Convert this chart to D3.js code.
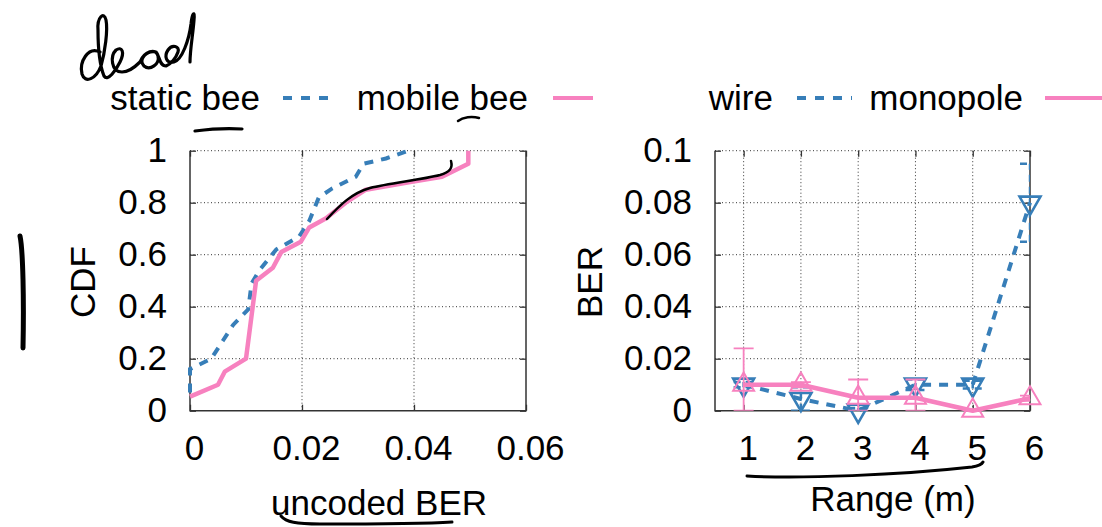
<!DOCTYPE html>
<html>
<head>
<meta charset="utf-8">
<script src="https://cdn.jsdelivr.net/npm/d3@7"></script>
<style>
  body { margin: 0; background: #fff; }
  svg { display: block; font-family: "Liberation Sans", Arial, sans-serif; }
</style>
</head>
<body>
<script>
var CANVAS_WIDTH = 1102;
var CANVAS_HEIGHT = 527;
var BLUE = "#377eb8";
var PINK = "#f781bf";
var FONT = "35px";

// left panel: CDF of uncoded BER
var cdfTicksX = [0, 0.02, 0.04, 0.06];
var cdfTickLabelsX = ["0", "0.02", "0.04", "0.06"];
var cdfTicksY = [0, 0.2, 0.4, 0.6, 0.8, 1];
var cdfTickLabelsY = ["0", "0.2", "0.4", "0.6", "0.8", "1"];
var staticBeeBer = [0, 0, 0.0038, 0.0059, 0.0077, 0.0104, 0.011, 0.0124, 0.0154, 0.0195, 0.0213, 0.023, 0.0254, 0.0296, 0.031, 0.035, 0.039];
var staticBeeCdf = [0.07, 0.16, 0.2, 0.27, 0.33, 0.39, 0.49, 0.54, 0.62, 0.67, 0.73, 0.82, 0.855, 0.9, 0.95, 0.97, 1.0];
var mobileBeeBer = [0, 0.005, 0.0062, 0.01, 0.0118, 0.0148, 0.0163, 0.0198, 0.0213, 0.0243, 0.0278, 0.0314, 0.0396, 0.045, 0.0497, 0.0497];
var mobileBeeCdf = [0.054, 0.1, 0.15, 0.2, 0.5, 0.55, 0.61, 0.65, 0.705, 0.74, 0.8, 0.85, 0.88, 0.9, 0.95, 1.0];

// right panel: BER vs range
var rangeM = [1, 2, 3, 4, 5, 6];
var berTicksY = [0, 0.02, 0.04, 0.06, 0.08, 0.1];
var berTickLabelsY = ["0", "0.02", "0.04", "0.06", "0.08", "0.1"];
var rangeTickLabels = ["1", "2", "3", "4", "5", "6"];
var wireBer = [0.01, 0.0045, 0, 0.01, 0.01, 0.08];
var wireErr = [0.001, 0.0045, 0.001, 0.002, 0.0015, 0.015];
var monopoleBer = [0.01, 0.01, 0.005, 0.005, 0, 0.0048];
var monopoleErr = [0.014, 0.001, 0.007, 0.007, 0.0005, 0.001];

var canvas = d3.select("body")
    .append("svg")
    .attr("width", CANVAS_WIDTH)
    .attr("height", CANVAS_HEIGHT);

var TOP = 150.7, BOTTOM = 410.7;

function drawFrame(x, y, xTicks, xLabels, yTicks, yLabels, xGrid, yGrid, clipId) {
    var x0 = x.range()[0], x1 = x.range()[1];
    // dotted grid
    canvas.append("g").selectAll("line").data(xGrid).join("line")
        .attr("x1", d => x(d)).attr("x2", d => x(d))
        .attr("y1", TOP).attr("y2", BOTTOM)
        .attr("stroke", "#333").attr("stroke-width", 1).attr("stroke-dasharray", "1,2.5");
    canvas.append("g").selectAll("line").data(yGrid).join("line")
        .attr("x1", x0).attr("x2", x1)
        .attr("y1", d => y(d)).attr("y2", d => y(d))
        .attr("stroke", "#333").attr("stroke-width", 1).attr("stroke-dasharray", "1,2.5");

    var bottom = canvas.append("g")
        .attr("transform", "translate(0," + BOTTOM + ")")
        .call(d3.axisBottom(x).tickValues(xTicks).tickFormat((d, i) => xLabels[i])
            .tickSize(-6).tickPadding(24));
    var left = canvas.append("g")
        .attr("transform", "translate(" + x0 + ",0)")
        .call(d3.axisLeft(y).tickValues(yTicks).tickFormat((d, i) => yLabels[i])
            .tickSize(-6).tickPadding(23));
    var top = canvas.append("g")
        .attr("transform", "translate(0," + TOP + ")")
        .call(d3.axisTop(x).tickValues(xTicks).tickFormat("").tickSize(-6));
    var right = canvas.append("g")
        .attr("transform", "translate(" + x1 + ",0)")
        .call(d3.axisRight(y).tickValues(yTicks).tickFormat("").tickSize(-6));
    [bottom, left, top, right].forEach(function(g) {
        g.select(".domain").remove();
        g.selectAll(".tick line").attr("stroke", "#333").attr("stroke-width", 1.3);
        g.selectAll("text").attr("font-size", FONT).attr("fill", "#000")
            .attr("font-family", "Liberation Sans, Arial, sans-serif");
    });
    bottom.selectAll("text").attr("dx", 4);

    // solid border on left, bottom, right
    canvas.append("path")
        .attr("d", "M" + x0 + "," + TOP + "V" + BOTTOM + "H" + x1 + "V" + TOP)
        .attr("fill", "none").attr("stroke", "#333").attr("stroke-width", 1.5);

    canvas.append("clipPath").attr("id", clipId).append("rect")
        .attr("x", x0).attr("y", TOP - 1).attr("width", x1 - x0).attr("height", BOTTOM - TOP + 1);
}

function drawAxisTitle(text, x, y, rotate) {
    canvas.append("text")
        .attr("transform", "translate(" + x + "," + y + ")" + (rotate ? " rotate(-90)" : ""))
        .attr("text-anchor", "middle")
        .attr("font-size", FONT)
        .text(text);
}

function drawLegendEntry(label, textEnd, sx1, sx2, color, dashed) {
    canvas.append("text")
        .attr("x", textEnd).attr("y", 110)
        .attr("text-anchor", "end")
        .attr("font-size", FONT)
        .text(label);
    canvas.append("line")
        .attr("x1", sx1).attr("x2", sx2).attr("y1", 98).attr("y2", 98)
        .attr("stroke", color).attr("stroke-width", 4)
        .attr("stroke-dasharray", dashed ? "9,9" : null);
}

// ---- left panel ----
var xCdf = d3.scaleLinear().domain([0, 0.06]).range([190, 526]);
var yCdf = d3.scaleLinear().domain([0, 1]).range([BOTTOM, TOP]);
drawFrame(xCdf, yCdf, cdfTicksX, cdfTickLabelsX, cdfTicksY, cdfTickLabelsY,
    [0.02, 0.04], [0.2, 0.4, 0.6, 0.8, 1], "clipL");

var cdfLine = d3.line().x(d => xCdf(d[0])).y(d => yCdf(d[1]));
canvas.append("path")
    .attr("d", cdfLine(d3.zip(staticBeeBer, staticBeeCdf)))
    .attr("fill", "none").attr("stroke", BLUE).attr("stroke-width", 4)
    .attr("stroke-dasharray", "9,8");
canvas.append("path")
    .attr("d", cdfLine(d3.zip(mobileBeeBer, mobileBeeCdf)))
    .attr("fill", "none").attr("stroke", PINK).attr("stroke-width", 4.5)
    .attr("stroke-linejoin", "round");

drawAxisTitle("CDF", 95, 282, true);
drawAxisTitle("uncoded BER", 379, 515, false);
drawLegendEntry("static bee", 260, 283, 337, BLUE, true);
drawLegendEntry("mobile bee", 528, 553, 593, PINK, false);

// ---- right panel ----
var xRange = d3.scaleLinear().domain([0.5, 6]).range([715, 1030]);
var yBer = d3.scaleLinear().domain([0, 0.1]).range([BOTTOM, TOP]);
drawFrame(xRange, yBer, rangeM, rangeTickLabels, berTicksY, berTickLabelsY,
    [1, 2, 3, 4, 5], [0.02, 0.04, 0.06, 0.08, 0.1], "clipR");

var berLine = d3.line().x(d => xRange(d[0])).y(d => yBer(d[1]));

function drawSeries(vals, errs, color, dashed, down) {
    var pts = d3.zip(rangeM, vals, errs);
    var g = canvas.append("g");
    // error bars, clipped to the plot box
    var eb = g.append("g").attr("clip-path", "url(#clipR)");
    pts.forEach(function(p) {
        var lo = Math.max(0, p[1] - p[2]), hi = p[1] + p[2];
        var cx = xRange(p[0]);
        eb.append("path")
            .attr("d", "M" + cx + "," + yBer(lo) + "V" + yBer(hi)
                + "M" + (cx - 10) + "," + yBer(hi) + "H" + (cx + 10)
                + "M" + (cx - 10) + "," + yBer(lo) + "H" + (cx + 10))
            .attr("fill", "none").attr("stroke", color).attr("stroke-width", dashed ? 2.5 : 1.8)
            .attr("stroke-dasharray", dashed ? "7,5" : null);
    });
    g.append("path")
        .attr("d", berLine(pts))
        .attr("fill", "none").attr("stroke", color).attr("stroke-width", dashed ? 4 : 4.5)
        .attr("stroke-linejoin", "round")
        .attr("stroke-dasharray", dashed ? "9,8" : null);
    g.selectAll("path.mark").data(pts).join("path")
        .attr("class", "mark")
        .attr("transform", d => "translate(" + xRange(d[0]) + "," + yBer(d[1]) + ")" + (down ? " rotate(180)" : ""))
        .attr("d", d3.symbol(d3.symbolTriangle, 190))
        .attr("fill", "none").attr("stroke", color).attr("stroke-width", dashed ? 2.6 : 2);
}
drawSeries(wireBer, wireErr, BLUE, true, true);
drawSeries(monopoleBer, monopoleErr, PINK, false, false);

drawAxisTitle("BER", 602, 282, true);
drawAxisTitle("Range (m)", 893, 511, false);
drawLegendEntry("wire", 773, 797, 852, BLUE, true);
drawLegendEntry("monopole", 1023, 1045, 1102, PINK, false);

// ---- handwritten annotations ----
var ink = canvas.append("g")
    .attr("fill", "none").attr("stroke", "#000")
    .attr("stroke-linecap", "round").attr("stroke-linejoin", "round");
var scribbles = [
    // "dead"
    { d: "M100,52 C88,46 79,62 82,74 C85,84 96,79 101,66 C105,52 108,30 106,20 C104,11 97,17 98,30 C98,48 100,66 104,76 "
        + "C108,82 116,70 120,62 C125,52 122,46 116,50 C110,56 111,72 122,72 C130,72 136,66 140,62 "
        + "C144,52 156,47 158,56 C160,64 150,71 144,66 C138,60 146,50 156,52 C160,56 159,66 166,66 "
        + "C171,64 176,58 178,52 C180,46 172,44 168,50 C164,56 166,64 174,62 C182,60 189,40 191,24 C192,14 195,9 194,20 C193,34 190,50 190,62",
      w: 3.2 },
    { d: "M195,131 C210,129 228,128 242,129", w: 3.2 },
    { d: "M458,121 C463,117 472,116 479,118", w: 2.5 },
    { d: "M327,219 C340,205 352,193 370,188 C390,183 420,180 440,175 C450,172 453,168 451,161", w: 2.5 },
    { d: "M20,236 C23,250 24,300 23,348", w: 5 },
    { d: "M281,516 C286,522 296,524 320,524 C370,524 420,524 452,522", w: 3 },
    { d: "M747,476 C800,479 900,475 972,467 C978,466 982,464 983,462", w: 3 }
];
ink.selectAll("path").data(scribbles).join("path")
    .attr("d", d => d.d)
    .attr("stroke-width", d => d.w);
</script>
</body>
</html>
